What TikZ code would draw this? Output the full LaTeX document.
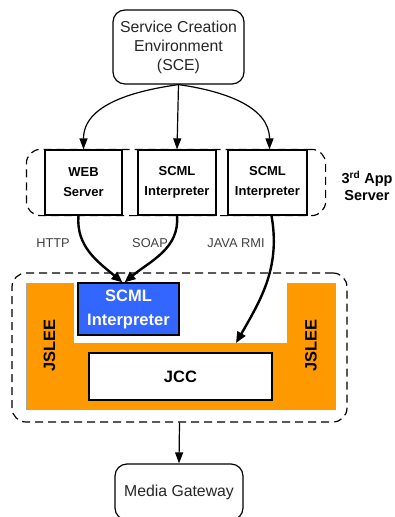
\documentclass[tikz,border=0pt]{standalone}
\usepackage{fontspec}
\setmainfont{Liberation Sans}
\usetikzlibrary{arrows.meta}
\usetikzlibrary{fit}
\definecolor{sleeorange}{HTML}{FF9900}
\definecolor{scmlblue}{HTML}{3366FF}
\tikzset{
  centered/.style = { align=center, anchor=center },
  roundbox/.style = { draw, centered, rounded corners=12pt, line width=1.2pt,
                      text=black!85, font=\fontsize{15.8}{19}\selectfont },
    appbox/.style = { draw, fill=white, centered, line width=1.2pt,
                      minimum height=65pt, font=\bfseries\fontsize{13}{20}\selectfont },
     group/.style = { draw, dashed, dash pattern=on 8pt off 5pt, line width=1.2pt,
                      rounded corners=14pt },
  protolbl/.style = { text=black!75, font=\fontsize{12.8}{15}\selectfont },
   sleelbl/.style = { rotate=90, font=\bfseries\fontsize{16.4}{19}\selectfont },
     arrow/.style = { line width=1.2pt, -{Triangle[length=11pt,width=8pt]} },
    harrow/.style = { line width=2.4pt, -{Triangle[length=11pt,width=9pt]} }
}

\begin{document}
\begin{tikzpicture}[x=1pt,y=1pt]
  \useasboundingbox (0,0) rectangle (395,-517);

  % top: creation environment
  \node[roundbox, minimum width=131pt, minimum height=74pt] (sce) at (178.5,-47)
    {Service Creation\\Environment\\(SCE)};

  % application servers
  \node[appbox, minimum width=77pt] (web)   at (83.5,-182.5)  {WEB\\Server};
  \node[appbox, minimum width=78pt] (scmlA) at (177,-182.5)   {SCML\\Interpreter};
  \node[appbox, minimum width=79pt] (scmlB) at (267.5,-182.5) {SCML\\Interpreter};
  \node[group, fit=(web)(scmlB), inner xsep=18pt, inner ysep=0pt] (apps) {};
  \node[centered, font=\bfseries\fontsize{14.5}{17}\selectfont] (third) at (367,-186)
    {3\textsuperscript{rd} App\\Server};

  \node[protolbl] (http) at (53,-243)  {HTTP};
  \node[protolbl] (soap) at (150,-243) {SOAP};
  \node[protolbl] (rmi)  at (236,-243) {JAVA RMI};

  % JSLEE container
  \node[group, minimum width=335pt, minimum height=149pt] (slee) at (179.5,-347.5) {};
  \draw[fill=sleeorange, draw=black!35, line width=0.6pt]
    (26,-283) -- (73,-283) -- (73,-343) -- (287,-343) -- (287,-283)
    -- (335,-283) -- (335,-409) -- (26,-409) -- cycle;
  \coordinate (slot) at (236,-343);
  \node[sleelbl] (jsleeL) at (49.5,-346) {JSLEE};
  \node[sleelbl] (jsleeR) at (311,-346)  {JSLEE};

  \node[draw, fill=scmlblue, line width=1.2pt, centered, text=white,
        minimum width=101pt, minimum height=52pt,
        font=\bfseries\fontsize{16.5}{24}\selectfont] (blue) at (128.5,-309)
    {SCML\\Interpreter};
  \node[draw, fill=white, line width=1.2pt, minimum width=183pt, minimum height=47pt,
        font=\bfseries\fontsize{16.5}{19}\selectfont] (jcc) at (180.5,-376.5) {JCC};

  % bottom
  \node[roundbox, minimum width=128pt, minimum height=56pt] (mgw) at (179,-492)
    {Media Gateway};

  \draw [arrow] (sce.south) to[out=188,in=90] (web.north);
  \draw [arrow] (sce.south) -- (scmlA.north);
  \draw [arrow] (sce.south) to[out=-8,in=90] ([xshift=2pt]scmlB.north);

  \draw [harrow] ([xshift=-5pt]web.south) to[out=-95,in=140] ([xshift=-6pt]blue.north);
  \draw [harrow] (scmlA.south) to[out=-85,in=40] ([xshift=-4pt]blue.north);
  \draw [harrow] ([xshift=4pt]scmlB.south) to[out=-80,in=60] (slot);

  \draw [arrow] (slee.south) -- (mgw.north);

\end{tikzpicture}
\end{document}
